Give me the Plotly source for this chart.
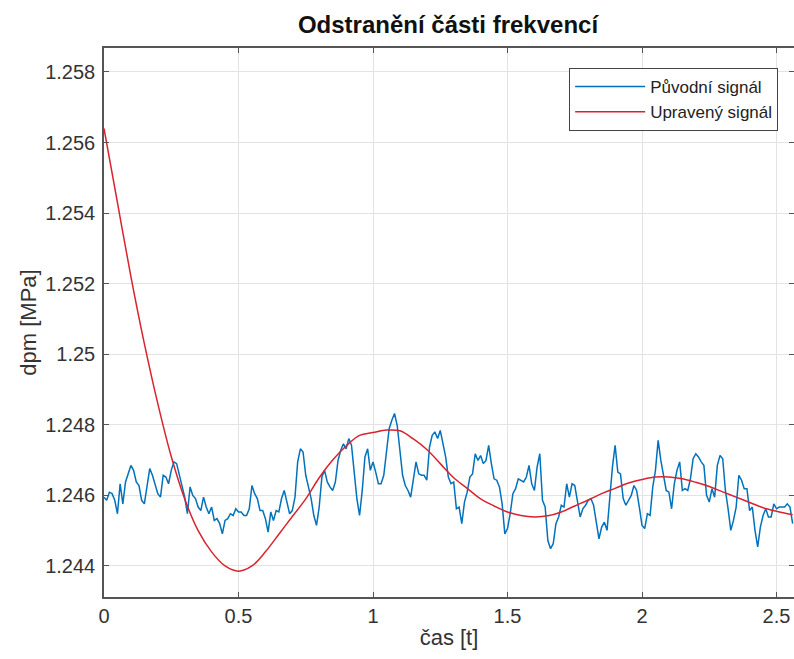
import plotly.graph_objects as go

# ---- data ----
t_step = 0.01
puvodni = [
    1.24595, 1.24586, 1.24609, 1.24605, 1.24586, 1.24548, 1.24633, 1.24576, 1.24638, 1.24661,
    1.24685, 1.24671, 1.24638, 1.24628, 1.24586, 1.24576, 1.24633, 1.24676, 1.24657, 1.24633,
    1.24605, 1.24595, 1.24657, 1.24652, 1.24633, 1.24671, 1.24695, 1.24690, 1.24657, 1.24628,
    1.24595, 1.24548, 1.24624, 1.24600, 1.24591, 1.24567, 1.24557, 1.24595, 1.24567, 1.24548,
    1.24567, 1.24529, 1.24534, 1.24520, 1.24491, 1.24529, 1.24534, 1.24548, 1.24543, 1.24562,
    1.24553, 1.24553, 1.24543, 1.24543, 1.24562, 1.24628, 1.24605, 1.24591, 1.24557, 1.24557,
    1.24534, 1.24496, 1.24553, 1.24529, 1.24557, 1.24553, 1.24591, 1.24614, 1.24581, 1.24548,
    1.24557, 1.24595, 1.24695, 1.24732, 1.24723, 1.24657, 1.24624, 1.24591, 1.24543, 1.24515,
    1.24567, 1.24652, 1.24671, 1.24638, 1.24624, 1.24614, 1.24638, 1.24699, 1.24728, 1.24746,
    1.24732, 1.24761, 1.24742, 1.24661, 1.24591, 1.24543, 1.24614, 1.24709, 1.24732, 1.24671,
    1.24695, 1.24666, 1.24633, 1.24633, 1.24657, 1.24723, 1.24789, 1.24813, 1.24832, 1.24798,
    1.24718, 1.24657, 1.24628, 1.24614, 1.24595, 1.24643, 1.24695, 1.24661, 1.24657, 1.24657,
    1.24643, 1.24737, 1.24770, 1.24780, 1.24761, 1.24784, 1.24742, 1.24709, 1.24652, 1.24633,
    1.24638, 1.24562, 1.24567, 1.24520, 1.24581, 1.24609, 1.24652, 1.24661, 1.24718, 1.24699,
    1.24713, 1.24690, 1.24699, 1.24742, 1.24690, 1.24647, 1.24643, 1.24624, 1.24576, 1.24491,
    1.24506, 1.24548, 1.24605, 1.24619, 1.24647, 1.24643, 1.24638, 1.24652, 1.24685, 1.24633,
    1.24614, 1.24680, 1.24718, 1.24586, 1.24567, 1.24472, 1.24449, 1.24463, 1.24520, 1.24539,
    1.24572, 1.24567, 1.24633, 1.24595, 1.24633, 1.24628, 1.24586, 1.24539, 1.24562, 1.24572,
    1.24586, 1.24591, 1.24572, 1.24524, 1.24477, 1.24510, 1.24524, 1.24501, 1.24595, 1.24680,
    1.24742, 1.24666, 1.24661, 1.24591, 1.24572, 1.24586, 1.24600, 1.24628, 1.24614, 1.24567,
    1.24515, 1.24506, 1.24548, 1.24543, 1.24624, 1.24671, 1.24756, 1.24699, 1.24652, 1.24614,
    1.24609, 1.24562, 1.24633, 1.24671, 1.24695, 1.24614, 1.24619, 1.24614, 1.24647, 1.24704,
    1.24718, 1.24709, 1.24695, 1.24685, 1.24600, 1.24581, 1.24619, 1.24595, 1.24685, 1.24713,
    1.24704, 1.24614, 1.24562, 1.24501, 1.24529, 1.24567, 1.24657, 1.24643, 1.24619, 1.24619,
    1.24557, 1.24567, 1.24501, 1.24454, 1.24510, 1.24543, 1.24562, 1.24539, 1.24539, 1.24576,
    1.24562, 1.24567, 1.24567, 1.24567, 1.24576, 1.24567, 1.24520,
]
t_puvodni = [round(i * t_step, 2) for i in range(len(puvodni))]

t_upraveny = [0.0, 0.05, 0.1, 0.15, 0.2, 0.25, 0.3, 0.35, 0.4, 0.45, 0.5, 0.55, 0.6, 0.65,
              0.7, 0.75, 0.8, 0.85, 0.9, 0.95, 1.0, 1.05, 1.1, 1.15, 1.2, 1.25, 1.3, 1.35,
              1.4, 1.45, 1.5, 1.55, 1.6, 1.65, 1.7, 1.75, 1.8, 1.85, 1.9, 1.95, 2.0, 2.05,
              2.1, 2.15, 2.2, 2.25, 2.3, 2.35, 2.4, 2.45, 2.5, 2.56]
upraveny = [1.2564, 1.2543, 1.2522, 1.2503, 1.2486, 1.2471, 1.2459, 1.2450, 1.2444, 1.2440,
            1.24385, 1.2440, 1.2444, 1.2449, 1.2454, 1.2459, 1.2465, 1.2470, 1.2474, 1.2477,
            1.24778, 1.24785, 1.24783, 1.2476, 1.2473, 1.2469, 1.2465, 1.2462, 1.2459, 1.2457,
            1.24553, 1.24543, 1.24539, 1.24542, 1.24553, 1.2457, 1.24587, 1.24605, 1.2462,
            1.24635, 1.24645, 1.24652, 1.24652, 1.24647, 1.24637, 1.24625, 1.2461, 1.24595,
            1.2458, 1.24565, 1.24555, 1.24545]

x_ticks = [0, 0.5, 1, 1.5, 2, 2.5]
x_tick_labels = ["0", "0.5", "1", "1.5", "2", "2.5"]
y_ticks = [1.244, 1.246, 1.248, 1.250, 1.252, 1.254, 1.256, 1.258]
y_tick_labels = ["1.244", "1.246", "1.248", "1.25", "1.252", "1.254", "1.256", "1.258"]

FONT = "Liberation Sans, Arial, sans-serif"
W, H = 794, 659

fig = go.Figure()
fig.add_trace(go.Scatter(x=t_puvodni, y=puvodni, mode="lines", name="Původní signál",
                         line=dict(color="#0072BD", width=1.5)))
fig.add_trace(go.Scatter(x=t_upraveny, y=upraveny, mode="lines", name="Upravený signál",
                         line=dict(color="#d9232e", width=1.5, shape="spline", smoothing=1.0)))

axis_common = dict(
    showline=True, linecolor="#555555", linewidth=1.5, mirror="ticks",
    ticks="inside", ticklen=5, tickcolor="#555555", tickwidth=1,
    showgrid=True, gridcolor="#e3e3e3", gridwidth=1, zeroline=False,
    automargin=False,
    tickfont=dict(family=FONT, size=20, color="#333333"),
)

fig.update_layout(
    width=W, height=H,
    margin=dict(l=104, r=0, t=48, b=62),
    paper_bgcolor="white", plot_bgcolor="white",
    title=dict(text="<b>Odstranění části frekvencí</b>", x=448 / W, xanchor="center",
               xref="container", y=1 - 25 / H, yanchor="middle", yref="container",
               font=dict(family=FONT, size=24, color="#111111")),
    xaxis=dict(range=[0, 2.565], tickvals=x_ticks, ticktext=x_tick_labels,
               title=dict(text="čas [t]", font=dict(family=FONT, size=22, color="#333333"), standoff=4),
               **axis_common),
    yaxis=dict(range=[1.24312, 1.25868], tickvals=y_ticks, ticktext=y_tick_labels,
               ticklabelstandoff=3,
               title=dict(text="dpm [MPa]", font=dict(family=FONT, size=22, color="#333333"), standoff=2),
               **axis_common),
    legend=dict(x=0.977, y=0.9636, xanchor="right", yanchor="top",
                bgcolor="white", bordercolor="#444444", borderwidth=1,
                font=dict(family=FONT, size=17, color="#222222"),
                tracegroupgap=0, itemwidth=70),
    showlegend=True,
)

fig.write_html(
    "out.html",
    config={"displayModeBar": False},
    post_script="document.body.style.margin='0';document.body.style.overflow='hidden';",
)
